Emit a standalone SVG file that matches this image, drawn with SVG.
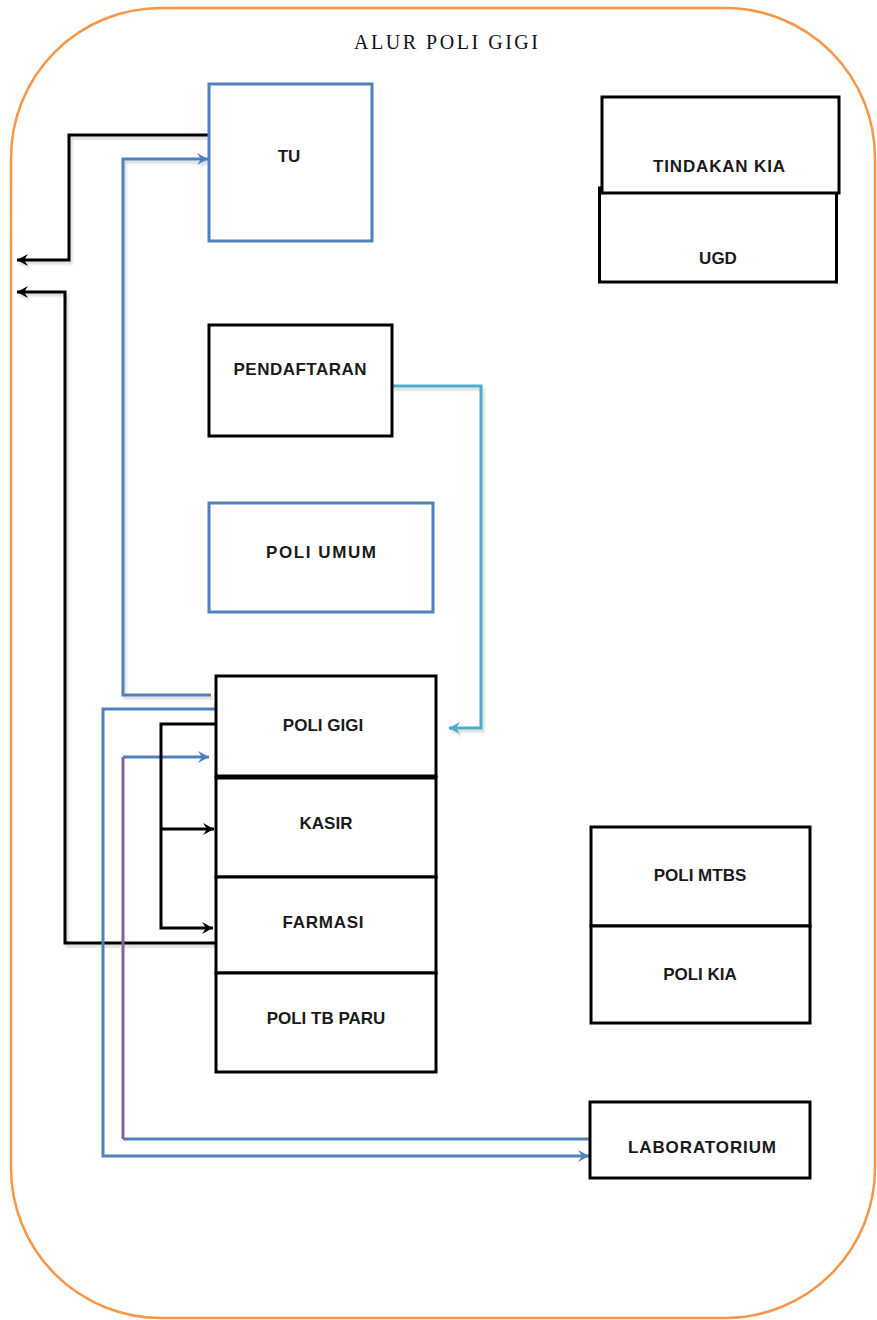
<svg xmlns="http://www.w3.org/2000/svg" width="877" height="1320" viewBox="0 0 877 1320">
<style>
.bx{fill:#fff;stroke:#000;stroke-width:3}
.bb{fill:#fff;stroke:#4F81BD;stroke-width:3}
.lb{font-family:"Liberation Sans",Arial,sans-serif;font-weight:bold;font-size:17px;fill:#1a1a1a;text-anchor:middle}
.cn{fill:none;stroke-width:3}
.k{stroke:#000}
.b{stroke:#4F81BD}
.c{stroke:#4BACC6}
.p{stroke:#8064A2}
.sh{filter:url(#shd)}
</style>
<defs>
<filter id="shd" x="-10%" y="-10%" width="120%" height="120%">
<feDropShadow dx="2" dy="3" stdDeviation="1" flood-color="#000" flood-opacity="0.15"/>
</filter>
<marker id="ak" markerUnits="userSpaceOnUse" markerWidth="14" markerHeight="14" refX="11" refY="6" orient="auto" overflow="visible">
<path d="M0,0 L11,6 L0,12 L4,6 Z" fill="#000"/>
</marker>
<marker id="ab" markerUnits="userSpaceOnUse" markerWidth="14" markerHeight="14" refX="11" refY="6" orient="auto" overflow="visible">
<path d="M0,0 L11,6 L0,12 L4,6 Z" fill="#4F81BD"/>
</marker>
<marker id="ac" markerUnits="userSpaceOnUse" markerWidth="14" markerHeight="14" refX="11" refY="6" orient="auto" overflow="visible">
<path d="M0,0 L11,6 L0,12 L4,6 Z" fill="#4BACC6"/>
</marker>
</defs>
<rect width="877" height="1320" fill="#fff"/>
<g id="frame">
<rect x="11" y="8" width="864" height="1310" rx="150" ry="150" fill="none" stroke="#F79646" stroke-width="2.5"/>
<text x="446" y="49" font-family="'Liberation Serif','Times New Roman',serif" font-size="20" fill="#111" text-anchor="middle" textLength="184">ALUR POLI GIGI</text>
</g>
<g id="connectors">
<path class="cn k sh" d="M209,135 H69 V260 H17" marker-end="url(#ak)"/>
<path class="cn k sh" d="M216,943 H65 V292 H17" marker-end="url(#ak)"/>
<path class="cn b sh" d="M211,695 H123 V159 H208" marker-end="url(#ab)"/>
<path class="cn c sh" d="M392,386 H481 V728 H449" marker-end="url(#ac)"/>
<path class="cn b" d="M216,709 H103 V1156 H589" marker-end="url(#ab)"/>
<path class="cn b" d="M590,1139 H123"/>
<path class="cn p" d="M123,1139 V757"/>
<path class="cn b" d="M123,757 H209" marker-end="url(#ab)"/>
<path class="cn k" d="M216,724 H161 V928 H213" marker-end="url(#ak)"/>
<path class="cn k" d="M161,829 H214" marker-end="url(#ak)"/>
</g>
<g id="node-tu">
<rect class="bb" x="209" y="84" width="163" height="157"/>
<text class="lb" x="289" y="162">TU</text>
</g>
<g id="node-ugd">
<rect class="bx" x="599.5" y="188" width="237" height="94"/>
<text class="lb" x="718" y="264">UGD</text>
</g>
<g id="node-tindakan-kia">
<rect class="bx" x="602" y="97" width="237" height="96"/>
<text class="lb" x="719" y="172" textLength="132">TINDAKAN KIA</text>
</g>
<g id="node-pendaftaran">
<rect class="bx" x="209" y="325" width="183" height="111"/>
<text class="lb" x="300" y="375" textLength="133">PENDAFTARAN</text>
</g>
<g id="node-poli-umum">
<rect class="bb" x="209" y="503" width="224" height="109"/>
<text class="lb" x="321" y="558" textLength="110">POLI UMUM</text>
</g>
<g id="node-poli-gigi">
<rect class="bx" x="216" y="676" width="220" height="101"/>
<text class="lb" x="323" y="731">POLI GIGI</text>
</g>
<g id="node-kasir">
<rect class="bx" x="216" y="777" width="220" height="100"/>
<line x1="216" y1="777" x2="436" y2="777" stroke="#000" stroke-width="5"/>
<text class="lb" x="326" y="829">KASIR</text>
</g>
<g id="node-farmasi">
<rect class="bx" x="216" y="877" width="220" height="96"/>
<text class="lb" x="323" y="928" textLength="81">FARMASI</text>
</g>
<g id="node-poli-tb-paru">
<rect class="bx" x="216" y="973" width="220" height="99"/>
<text class="lb" x="326" y="1024">POLI TB PARU</text>
</g>
<g id="node-poli-mtbs">
<rect class="bx" x="591" y="827" width="219" height="99"/>
<text class="lb" x="700" y="881">POLI MTBS</text>
</g>
<g id="node-poli-kia">
<rect class="bx" x="591" y="926" width="219" height="97"/>
<text class="lb" x="700" y="980">POLI KIA</text>
</g>
<g id="node-laboratorium">
<rect class="bx" x="590" y="1102" width="220" height="76"/>
<text class="lb" x="702" y="1153" textLength="148">LABORATORIUM</text>
</g>
</svg>
